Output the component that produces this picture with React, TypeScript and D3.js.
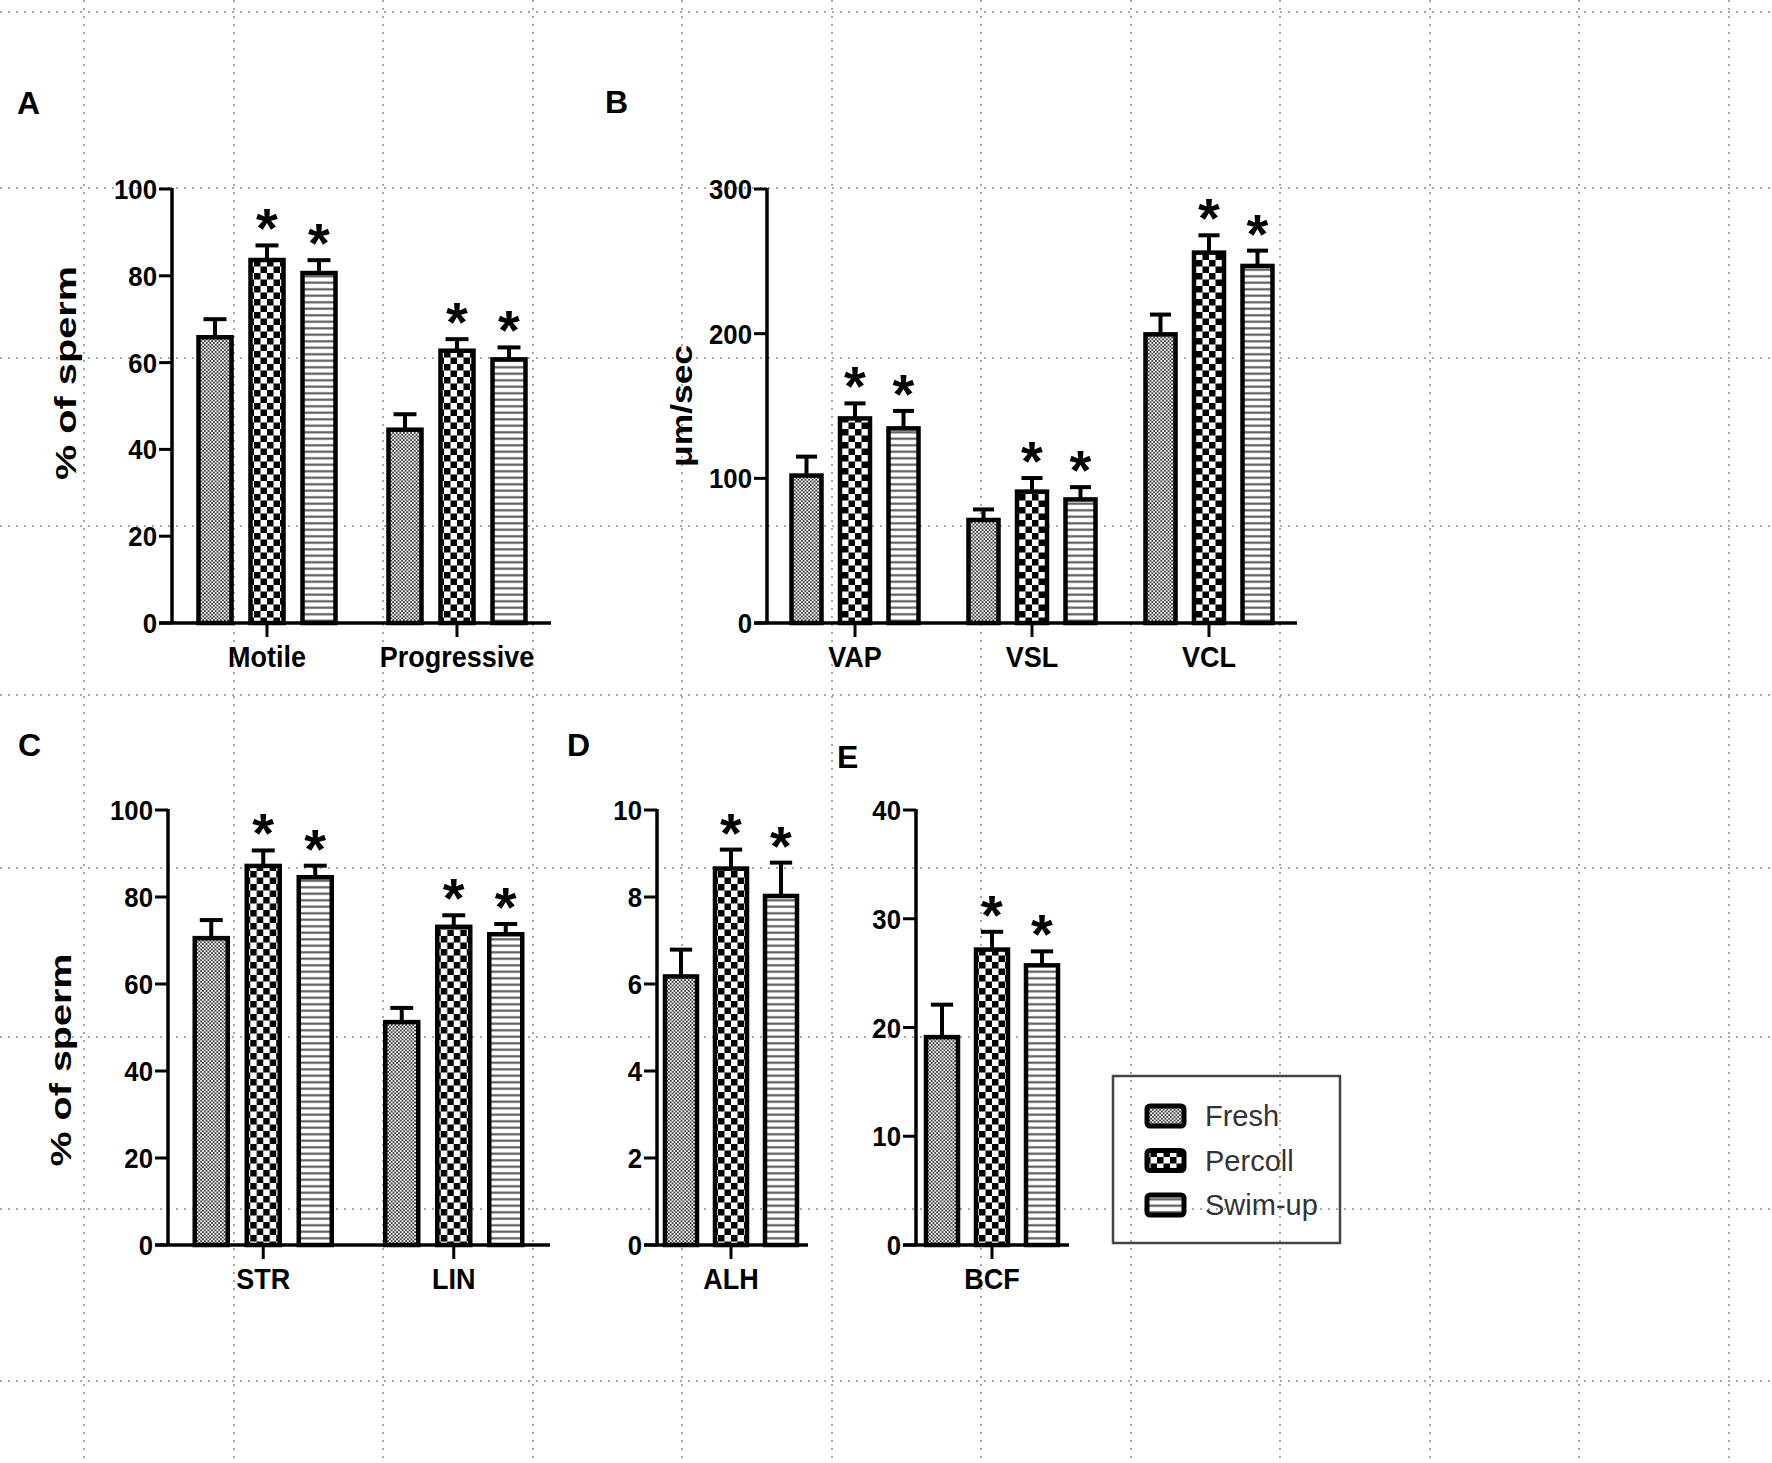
import React, { useEffect, useRef } from "react";
import * as d3 from "d3";

// treatment groups (one bar each inside every category)
const groups = ["Fresh", "Percoll", "Swim-up"];
const significant = [false, true, true];

// A: motility
const motilityCats = ["Motile", "Progressive"];
const motilityMean = [[66.3, 84.1, 81.1], [45.0, 63.2, 61.2]];
const motilitySem = [[3.7, 2.9, 2.5], [3.1, 2.2, 2.3]];

// B: velocities
const velocityCats = ["VAP", "VSL", "VCL"];
const velocityMean = [[103.3, 142.8, 135.9], [72.6, 92.2, 86.8], [200.9, 257.4, 248.2]];
const velocitySem = [[11.7, 9.0, 10.7], [5.9, 8.0, 7.1], [12.3, 10.6, 9.2]];

// C: STR / LIN
const ratioCats = ["STR", "LIN"];
const ratioMean = [[71.0, 87.6, 85.0], [51.7, 73.6, 71.9]];
const ratioSem = [[3.7, 3.1, 2.2], [2.8, 2.2, 1.9]];

// D: ALH
const alhCats = ["ALH"];
const alhMean = [[6.22, 8.7, 8.07]];
const alhSem = [[0.57, 0.39, 0.72]];

// E: BCF
const bcfCats = ["BCF"];
const bcfMean = [[19.3, 27.35, 25.9]];
const bcfSem = [[2.8, 1.45, 1.1]];

const pctTicks = [0, 20, 40, 60, 80, 100];
const velTicks = [0, 100, 200, 300];
const alhTicks = [0, 2, 4, 6, 8, 10];
const bcfTicks = [0, 10, 20, 30, 40];

const W = 1772;
const H = 1463;
const FONT = "'Liberation Sans', Arial, Helvetica, sans-serif";

// background dotted grid of the scanned page
const gridY = [12, 188, 358, 526, 695, 868, 1037, 1209, 1381];
const gridX = [84, 234, 383, 533, 682, 832, 981, 1131, 1280, 1430, 1579, 1729];

const panels = [
  { letter: "A", lx: 17, ly: 114, cats: motilityCats, mean: motilityMean, sem: motilitySem, ticks: pctTicks,
    title: "% of  sperm", tx: 68, ty: 373, tlen: 214,
    axisX: 172, xEnd: 551, top: 189, zero: 623, band: [172, 552], step: 52, barW: 37 },
  { letter: "B", lx: 605, ly: 113, cats: velocityCats, mean: velocityMean, sem: velocitySem, ticks: velTicks,
    title: "\u03bcm/sec", tx: 684, ty: 406, tlen: 122,
    axisX: 767, xEnd: 1297, top: 189, zero: 623, band: [766.5, 1297.5], step: 48.5, barW: 34 },
  { letter: "C", lx: 18, ly: 756, cats: ratioCats, mean: ratioMean, sem: ratioSem, ticks: pctTicks,
    title: "% of  sperm", tx: 63, ty: 1060, tlen: 213,
    axisX: 168, xEnd: 550, top: 810, zero: 1245, band: [168, 549], step: 52, barW: 37 },
  { letter: "D", lx: 567, ly: 756, cats: alhCats, mean: alhMean, sem: alhSem, ticks: alhTicks,
    title: "", tx: 0, ty: 0, tlen: 0,
    axisX: 657, xEnd: 808, top: 810, zero: 1245, band: [656, 806], step: 50, barW: 36 },
  { letter: "E", lx: 837, ly: 768, cats: bcfCats, mean: bcfMean, sem: bcfSem, ticks: bcfTicks,
    title: "", tx: 0, ty: 0, tlen: 0,
    axisX: 916, xEnd: 1069, top: 810, zero: 1245, band: [917, 1067], step: 50, barW: 36 },
];

type Panel = (typeof panels)[number];

function addPatterns(defs: d3.Selection<SVGDefsElement, unknown, null, undefined>) {
  // Fresh: fine grey checker
  const p0 = defs.append("pattern").attr("id", "pat-0").attr("patternUnits", "userSpaceOnUse")
    .attr("width", 3.6).attr("height", 3.6);
  p0.append("rect").attr("width", 3.6).attr("height", 3.6).attr("fill", "#fff");
  p0.append("rect").attr("width", 1.8).attr("height", 1.8).attr("fill", "#3a3a3a");
  p0.append("rect").attr("x", 1.8).attr("y", 1.8).attr("width", 1.8).attr("height", 1.8).attr("fill", "#3a3a3a");

  // Percoll: coarse black/white checker
  const c = 6.5;
  const p1 = defs.append("pattern").attr("id", "pat-1").attr("patternUnits", "userSpaceOnUse")
    .attr("width", 2 * c).attr("height", 2 * c);
  p1.append("rect").attr("width", 2 * c).attr("height", 2 * c).attr("fill", "#fff");
  p1.append("rect").attr("width", c).attr("height", c).attr("fill", "#000");
  p1.append("rect").attr("x", c).attr("y", c).attr("width", c).attr("height", c).attr("fill", "#000");

  // Swim-up: horizontal stripes
  const p2 = defs.append("pattern").attr("id", "pat-2").attr("patternUnits", "userSpaceOnUse")
    .attr("width", 10).attr("height", 6.5);
  p2.append("rect").attr("width", 10).attr("height", 6.5).attr("fill", "#fff");
  p2.append("rect").attr("y", 2.2).attr("width", 10).attr("height", 2.1).attr("fill", "#555");
}

function drawPanel(svg: d3.Selection<SVGSVGElement, unknown, null, undefined>, p: Panel) {
  const g = svg.append("g");
  const yMax = p.ticks[p.ticks.length - 1];
  const y = d3.scaleLinear().domain([0, yMax]).range([p.zero, p.top]);
  const x0 = d3.scaleBand<string>().domain(p.cats).range(p.band as [number, number]).padding(0);
  const pad = 1 - p.barW / p.step;
  const x1 = d3.scaleBand<string>().domain(groups)
    .range([-1.5 * p.step, 1.5 * p.step]).paddingInner(pad).paddingOuter(pad / 2);

  // panel letter
  g.append("text").attr("x", p.lx).attr("y", p.ly)
    .attr("font-family", FONT).attr("font-weight", "bold").attr("font-size", 32)
    .text(p.letter);

  // y title
  if (p.title) {
    g.append("text")
      .attr("transform", `translate(${p.tx + 8},${p.ty}) rotate(-90)`)
      .attr("text-anchor", "middle")
      .attr("font-family", FONT).attr("font-weight", "bold").attr("font-size", 30)
      .attr("textLength", p.tlen).attr("lengthAdjust", "spacingAndGlyphs")
      .text(p.title);
  }

  // bars, error bars, asterisks
  p.cats.forEach((c, i) => {
    const cx0 = (x0(c) as number) + x0.bandwidth() / 2;
    const cg = g.append("g").attr("transform", `translate(${cx0},0)`);
    groups.forEach((grp, j) => {
      const m = p.mean[i][j];
      const s = p.sem[i][j];
      const bx = x1(grp) as number;
      const bw = x1.bandwidth();
      const cx = bx + bw / 2;
      const capW = bw * 0.62;
      cg.append("line").attr("x1", cx).attr("x2", cx).attr("y1", y(m) + 4).attr("y2", y(m + s))
        .attr("stroke", "#000").attr("stroke-width", 4);
      cg.append("line").attr("x1", cx - capW / 2).attr("x2", cx + capW / 2)
        .attr("y1", y(m + s)).attr("y2", y(m + s))
        .attr("stroke", "#000").attr("stroke-width", 4);
      cg.append("rect").attr("x", bx + 2).attr("y", y(m) + 2)
        .attr("width", bw - 4).attr("height", y(0) - y(m) - 2)
        .attr("fill", `url(#pat-${j})`).attr("stroke", "#000").attr("stroke-width", 4.5);
      if (significant[j]) {
        cg.append("text").attr("x", cx).attr("y", y(m + s) + 2)
          .attr("text-anchor", "middle")
          .attr("font-family", FONT).attr("font-weight", "bold").attr("font-size", 56)
          .text("*");
      }
    });
  });

  // y axis
  g.append("line").attr("x1", p.axisX).attr("x2", p.axisX).attr("y1", p.zero).attr("y2", p.top - 1)
    .attr("stroke", "#000").attr("stroke-width", 3.5);
  p.ticks.forEach((t) => {
    g.append("line").attr("x1", p.axisX - 13).attr("x2", p.axisX).attr("y1", y(t)).attr("y2", y(t))
      .attr("stroke", "#000").attr("stroke-width", 3);
    g.append("text")
      .attr("transform", `translate(${p.axisX - 15},${y(t) + 10}) scale(0.92,1)`)
      .attr("text-anchor", "end")
      .attr("font-family", FONT).attr("font-weight", "bold").attr("font-size", 28)
      .text(String(t));
  });

  // x axis
  g.append("line").attr("x1", p.axisX - 13).attr("x2", p.xEnd).attr("y1", p.zero).attr("y2", p.zero)
    .attr("stroke", "#000").attr("stroke-width", 3.5);
  p.cats.forEach((c) => {
    const cx = (x0(c) as number) + x0.bandwidth() / 2;
    g.append("line").attr("x1", cx).attr("x2", cx).attr("y1", p.zero).attr("y2", p.zero + 14)
      .attr("stroke", "#000").attr("stroke-width", 3);
    g.append("text")
      .attr("transform", `translate(${cx},${p.zero + 44}) scale(0.9,1)`)
      .attr("text-anchor", "middle")
      .attr("font-family", FONT).attr("font-weight", "bold").attr("font-size", 30)
      .text(c);
  });
}

function drawLegend(svg: d3.Selection<SVGSVGElement, unknown, null, undefined>) {
  const g = svg.append("g");
  g.append("rect").attr("x", 1113).attr("y", 1076).attr("width", 227).attr("height", 167)
    .attr("fill", "none").attr("stroke", "#444").attr("stroke-width", 2.5);
  const rowY = d3.scalePoint<string>().domain(groups).range([1116, 1205]);
  groups.forEach((grp, j) => {
    const cy = rowY(grp) as number;
    g.append("rect").attr("x", 1147).attr("y", cy - 10).attr("width", 37).attr("height", 20)
      .attr("rx", 3).attr("fill", `url(#pat-${j})`).attr("stroke", "#000").attr("stroke-width", 5);
    g.append("text").attr("x", 1205).attr("y", cy + 10)
      .attr("font-family", FONT).attr("font-size", 29).attr("fill", "#333")
      .text(grp);
  });
}

const App = () => {
  const ref = useRef<SVGSVGElement | null>(null);

  useEffect(() => {
    const svg = d3.select(ref.current as SVGSVGElement);
    svg.selectAll("*").remove();
    svg.append("rect").attr("width", W).attr("height", H).attr("fill", "#fff");
    addPatterns(svg.append("defs"));

    const grid = svg.append("g").attr("stroke", "#a8a8a8").attr("stroke-width", 2)
      .attr("stroke-dasharray", "2 6");
    gridY.forEach((gy) => grid.append("line").attr("x1", 0).attr("x2", W).attr("y1", gy).attr("y2", gy));
    gridX.forEach((gx) => grid.append("line").attr("x1", gx).attr("x2", gx).attr("y1", 0).attr("y2", H));

    panels.forEach((p) => drawPanel(svg, p));
    drawLegend(svg);
  }, []);

  return (
    <svg ref={ref} width={W} height={H}
      style={{ position: "absolute", left: 0, top: 0, display: "block" }} />
  );
};

export default App;
